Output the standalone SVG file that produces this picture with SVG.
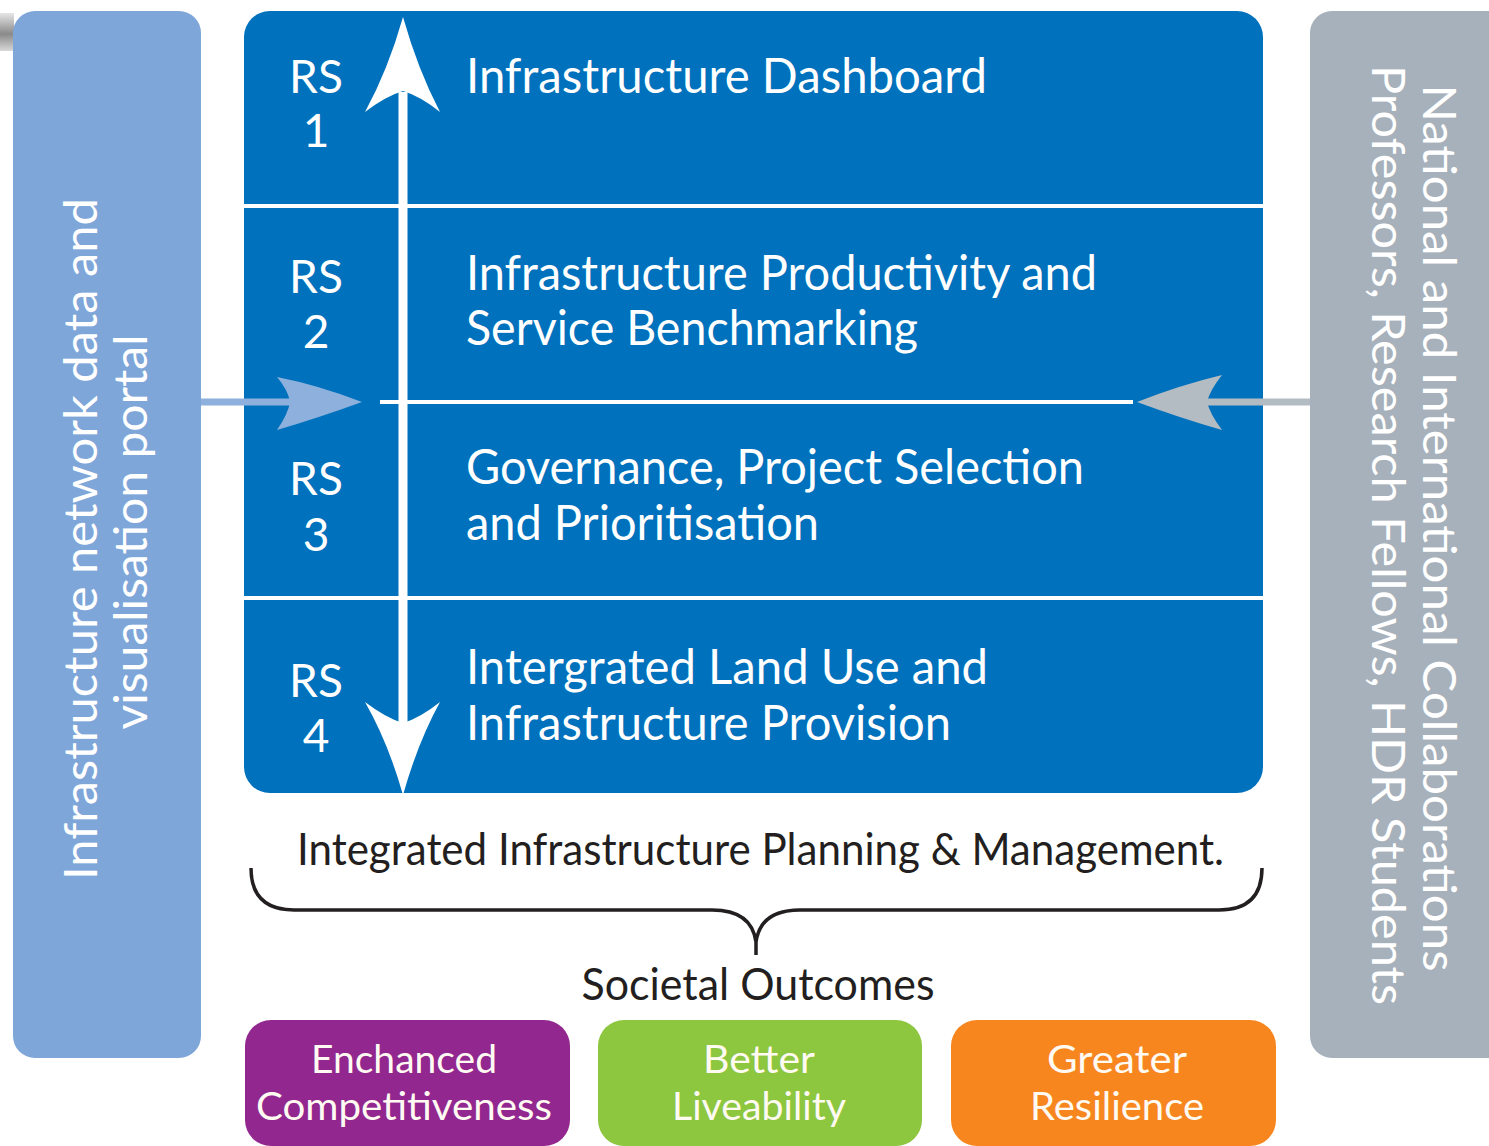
<svg xmlns="http://www.w3.org/2000/svg" width="1489" height="1146" viewBox="0 0 1489 1146">
<defs>
<linearGradient id="shadow" x1="0" y1="0" x2="0" y2="1">
<stop offset="0" stop-color="#e6e6e6"/>
<stop offset="0.55" stop-color="#8a8a8a"/>
<stop offset="1" stop-color="#d8d8d8"/>
</linearGradient>
<style>
text{font-family:Lato,"Liberation Sans",sans-serif;}
.wt{fill:#ffffff;font-size:48px;}
.rs{fill:#ffffff;font-size:46px;text-anchor:middle;}
.side{fill:#ffffff;font-size:46px;text-anchor:middle;}
.dk{fill:#231f20;font-size:44px;}
.out{fill:#fffaf2;font-size:39px;text-anchor:middle;}
.wl{stroke:#ffffff;stroke-width:4;fill:none;}
</style>
</defs>
<rect width="1489" height="1146" fill="#ffffff"/>
<rect x="0" y="13" width="14" height="38" fill="url(#shadow)"/>

<g id="left-panel">
<rect x="13" y="11" width="188" height="1047" rx="22" fill="#7ea6d9"/>
<text class="side" transform="translate(97,539) rotate(-90)" textLength="682" lengthAdjust="spacingAndGlyphs">Infrastructure network data and</text>
<text class="side" transform="translate(147,532) rotate(-90)" textLength="395" lengthAdjust="spacingAndGlyphs">visualisation portal</text>
</g>

<g id="right-panel">
<rect x="1310" y="11" width="200" height="1047" rx="22" fill="#a7b1bb"/>
<text class="side" transform="translate(1423,528) rotate(90)" textLength="887" lengthAdjust="spacingAndGlyphs">National and International Collaborations</text>
<text class="side" transform="translate(1372,535) rotate(90)" textLength="940" lengthAdjust="spacingAndGlyphs">Professors, Research Fellows, HDR Students</text>
</g>

<g id="main-box">
<rect x="244" y="11" width="1019" height="782" rx="26" fill="#0071bc"/>
<line class="wl" x1="244" y1="206" x2="1263" y2="206"/>
<line class="wl" x1="380" y1="402" x2="1133" y2="402"/>
<line class="wl" x1="244" y1="598" x2="1263" y2="598"/>
</g>

<g id="rs1">
<text class="rs" x="316" y="93">RS</text>
<text class="rs" x="316" y="147">1</text>
<text class="wt" x="466" y="93" textLength="521" lengthAdjust="spacingAndGlyphs">Infrastructure Dashboard</text>
</g>
<g id="rs2">
<text class="rs" x="316" y="293">RS</text>
<text class="rs" x="316" y="348">2</text>
<text class="wt" x="466" y="290" textLength="631" lengthAdjust="spacingAndGlyphs">Infrastructure Productivity and</text>
<text class="wt" x="466" y="345" textLength="452" lengthAdjust="spacingAndGlyphs">Service Benchmarking</text>
</g>
<g id="rs3">
<text class="rs" x="316" y="495">RS</text>
<text class="rs" x="316" y="551">3</text>
<text class="wt" x="466" y="484" textLength="618" lengthAdjust="spacingAndGlyphs">Governance, Project Selection</text>
<text class="wt" x="466" y="540" textLength="353" lengthAdjust="spacingAndGlyphs">and Prioritisation</text>
</g>
<g id="rs4">
<text class="rs" x="316" y="697">RS</text>
<text class="rs" x="316" y="752">4</text>
<text class="wt" x="466" y="684" textLength="522" lengthAdjust="spacingAndGlyphs">Intergrated Land Use and</text>
<text class="wt" x="466" y="740" textLength="485" lengthAdjust="spacingAndGlyphs">Infrastructure Provision</text>
</g>

<g id="connectors">
<line x1="403" y1="92" x2="403" y2="724" stroke="#ffffff" stroke-width="9"/>
<path d="M403,17 Q418,70 440,112 Q420,96 403,91 Q386,96 365,112 Q388,70 403,17 Z" fill="#ffffff"/>
<path d="M403,795 Q418,742 440,702 Q420,718 403,723 Q386,718 365,702 Q388,742 403,795 Z" fill="#ffffff"/>
<line x1="201" y1="402" x2="292" y2="402" stroke="#8db0dc" stroke-width="7"/>
<path d="M362,402 Q318,385 277,377 Q288,390 290,402 Q288,414 277,430 Q318,418 362,402 Z" fill="#8db0dc"/>
<line x1="1205" y1="402" x2="1310" y2="402" stroke="#b3bbc3" stroke-width="7"/>
<path d="M1137,402 Q1180,385 1222,375 Q1210,390 1207,402 Q1210,414 1222,430 Q1180,418 1137,402 Z" fill="#b3bbc3"/>
</g>

<g id="brace">
<text class="dk" x="297" y="865" textLength="927" lengthAdjust="spacingAndGlyphs">Integrated Infrastructure Planning &amp; Management.</text>
<path d="M251,868 C251,897 266,910 294,910 L712,910 C738,910 753,920 756,942 C759,920 774,910 800,910 L1219,910 C1247,910 1262,897 1262,868 M756,940 L756,955" fill="none" stroke="#231f20" stroke-width="3.5"/>
<text class="dk" x="758" y="1000" text-anchor="middle" textLength="353" lengthAdjust="spacingAndGlyphs">Societal Outcomes</text>
</g>

<g id="competitiveness">
<rect x="245" y="1020" width="325" height="126" rx="26" fill="#92278f"/>
<text class="out" x="404" y="1073" textLength="186" lengthAdjust="spacingAndGlyphs">Enchanced</text>
<text class="out" x="404" y="1120" textLength="296" lengthAdjust="spacingAndGlyphs">Competitiveness</text>
</g>
<g id="liveability">
<rect x="598" y="1020" width="324" height="126" rx="26" fill="#8dc63f"/>
<text class="out" x="759" y="1073" textLength="112" lengthAdjust="spacingAndGlyphs">Better</text>
<text class="out" x="759" y="1120" textLength="174" lengthAdjust="spacingAndGlyphs">Liveability</text>
</g>
<g id="resilience">
<rect x="951" y="1020" width="325" height="126" rx="26" fill="#f7861f"/>
<text class="out" x="1117" y="1073" textLength="140" lengthAdjust="spacingAndGlyphs">Greater</text>
<text class="out" x="1117" y="1120" textLength="174" lengthAdjust="spacingAndGlyphs">Resilience</text>
</g>
</svg>
